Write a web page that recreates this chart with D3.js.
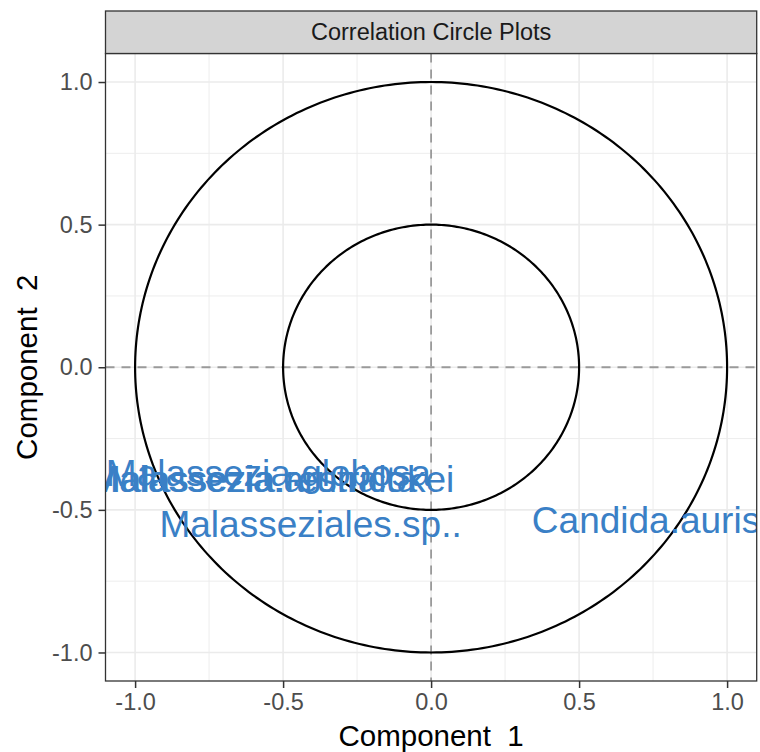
<!DOCTYPE html>
<html>
<head>
<meta charset="utf-8">
<script src="https://cdn.jsdelivr.net/npm/d3@7"></script>
<style>
  body { margin: 0; background: #fff; }
  text { font-family: "Liberation Sans", Arial, Helvetica, sans-serif; white-space: pre; }
</style>
</head>
<body>
<div id="chart"></div>
<script>
// variable loadings on the first two components
const varNames = [
  'Malassezia.restricta',
  'Malassezia.arunalokei',
  'Malassezia.globosa',
  'Malasseziales.sp..',
  'Candida.auris'
];
const comp1 = [-0.60, -0.54, -0.55, -0.407, 0.726];
const comp2 = [-0.393, -0.393, -0.371, -0.548, -0.534];

const circleRadii = [1, 0.5];
const majorTicks = [-1, -0.5, 0, 0.5, 1];
const minorTicks = [-0.75, -0.25, 0.25, 0.75];
const tickLabels = ['-1.0', '-0.5', '0.0', '0.5', '1.0'];

class CorrCircle {
  constructor(_parentElement) {
    this.parentElement = _parentElement;
    this.initVis();
  }

  initVis() {
    const vis = this;

    vis.margin = { left: 105.5, right: 3.3, top: 53.5, bottom: 71 };
    vis.fullW = 760;
    vis.fullH = 752;
    vis.width = vis.fullW - vis.margin.left - vis.margin.right;
    vis.height = vis.fullH - vis.margin.top - vis.margin.bottom;

    vis.svg = d3.select(vis.parentElement)
      .append('svg')
      .attr('width', vis.fullW)
      .attr('height', vis.fullH);

    vis.g = vis.svg.append('g')
      .attr('transform', 'translate(' + vis.margin.left + ', ' + vis.margin.top + ')');

    vis.x = d3.scaleLinear().domain([-1.1, 1.1]).range([0, vis.width]);
    vis.y = d3.scaleLinear().domain([-1.1, 1.1]).range([vis.height, 0]);

    vis.g.append('clipPath').attr('id', 'panelClip')
      .append('rect')
      .attr('width', vis.width)
      .attr('height', vis.height);

    // facet strip
    vis.svg.append('rect')
      .attr('x', vis.margin.left)
      .attr('y', 11)
      .attr('width', vis.width)
      .attr('height', vis.margin.top - 11)
      .attr('fill', '#d4d4d4')
      .attr('stroke', '#333333')
      .attr('stroke-width', 1.3);

    vis.svg.append('text')
      .attr('x', vis.margin.left + vis.width / 2)
      .attr('y', (11 + vis.margin.top) / 2)
      .attr('dy', '0.35em')
      .attr('text-anchor', 'middle')
      .attr('font-size', '23.5px')
      .attr('fill', '#1a1a1a')
      .text('Correlation Circle Plots');

    vis.wrangleData();
  }

  wrangleData() {
    const vis = this;
    vis.points = varNames.map((d, i) => ({ name: d, c1: comp1[i], c2: comp2[i] }));
    vis.updateVis();
  }

  updateVis() {
    const vis = this;

    // grid
    const grid = vis.g.append('g').attr('class', 'grid');
    grid.selectAll('.vminor').data(minorTicks).enter().append('line')
      .attr('x1', d => vis.x(d)).attr('x2', d => vis.x(d))
      .attr('y1', 0).attr('y2', vis.height)
      .attr('stroke', '#ebebeb').attr('stroke-width', 0.9);
    grid.selectAll('.hminor').data(minorTicks).enter().append('line')
      .attr('y1', d => vis.y(d)).attr('y2', d => vis.y(d))
      .attr('x1', 0).attr('x2', vis.width)
      .attr('stroke', '#ebebeb').attr('stroke-width', 0.9);
    grid.selectAll('.vmajor').data(majorTicks).enter().append('line')
      .attr('x1', d => vis.x(d)).attr('x2', d => vis.x(d))
      .attr('y1', 0).attr('y2', vis.height)
      .attr('stroke', '#ebebeb').attr('stroke-width', 1.6);
    grid.selectAll('.hmajor').data(majorTicks).enter().append('line')
      .attr('y1', d => vis.y(d)).attr('y2', d => vis.y(d))
      .attr('x1', 0).attr('x2', vis.width)
      .attr('stroke', '#ebebeb').attr('stroke-width', 1.6);

    // zero reference lines
    vis.g.append('line')
      .attr('x1', vis.x(0)).attr('x2', vis.x(0))
      .attr('y1', 0).attr('y2', vis.height)
      .attr('stroke', '#9a9a9a').attr('stroke-width', 1.8)
      .attr('stroke-dasharray', '9,7');
    vis.g.append('line')
      .attr('y1', vis.y(0)).attr('y2', vis.y(0))
      .attr('x1', 0).attr('x2', vis.width)
      .attr('stroke', '#9a9a9a').attr('stroke-width', 1.8)
      .attr('stroke-dasharray', '9,7');

    // circles of radius 1 and 0.5
    const angles = d3.range(0, 2 * Math.PI + 0.001, Math.PI / 180);
    const circleLine = d3.line()
      .x(d => vis.x(d.r * Math.cos(d.a)))
      .y(d => vis.y(d.r * Math.sin(d.a)));
    vis.g.selectAll('.circ').data(circleRadii).enter().append('path')
      .attr('class', 'circ')
      .attr('d', r => circleLine(angles.map(a => ({ r: r, a: a }))))
      .attr('fill', 'none')
      .attr('stroke', '#000')
      .attr('stroke-width', 2.2);

    // variable labels
    vis.g.append('g').attr('clip-path', 'url(#panelClip)')
      .selectAll('text').data(vis.points).enter().append('text')
      .attr('x', d => vis.x(d.c1))
      .attr('y', d => vis.y(d.c2))
      .attr('dy', '0.35em')
      .attr('text-anchor', 'middle')
      .attr('font-size', '37px')
      .attr('fill', '#3a80c6')
      .text(d => d.name);

    // panel border
    vis.g.append('rect')
      .attr('width', vis.width).attr('height', vis.height)
      .attr('fill', 'none')
      .attr('stroke', '#333333').attr('stroke-width', 1.3);

    // axes
    const xAxisCall = d3.axisBottom(vis.x).tickValues(majorTicks)
      .tickFormat((d, i) => tickLabels[i]).tickSize(7).tickPadding(5);
    const yAxisCall = d3.axisLeft(vis.y).tickValues(majorTicks)
      .tickFormat((d, i) => tickLabels[i]).tickSize(7).tickPadding(6);

    const xAxis = vis.g.append('g')
      .attr('transform', 'translate(0, ' + vis.height + ')')
      .call(xAxisCall);
    const yAxis = vis.g.append('g').call(yAxisCall);

    [xAxis, yAxis].forEach(ax => {
      ax.select('.domain').remove();
      ax.selectAll('line').attr('stroke', '#333333').attr('stroke-width', 1.5);
      ax.selectAll('text')
        .attr('font-size', '23.5px')
        .attr('font-family', '"Liberation Sans", Arial, sans-serif')
        .attr('fill', '#4d4d4d');
    });

    // axis titles
    vis.svg.append('text')
      .attr('x', vis.margin.left + vis.width / 2)
      .attr('y', 746)
      .attr('text-anchor', 'middle')
      .attr('font-size', '29.5px')
      .attr('fill', '#000')
      .text('Component  1');

    vis.svg.append('text')
      .attr('transform', 'translate(37, ' + (vis.margin.top + vis.height / 2) + ') rotate(-90)')
      .attr('text-anchor', 'middle')
      .attr('font-size', '29.5px')
      .attr('fill', '#000')
      .text('Component  2');
  }
}

new CorrCircle('#chart');
</script>
</body>
</html>
